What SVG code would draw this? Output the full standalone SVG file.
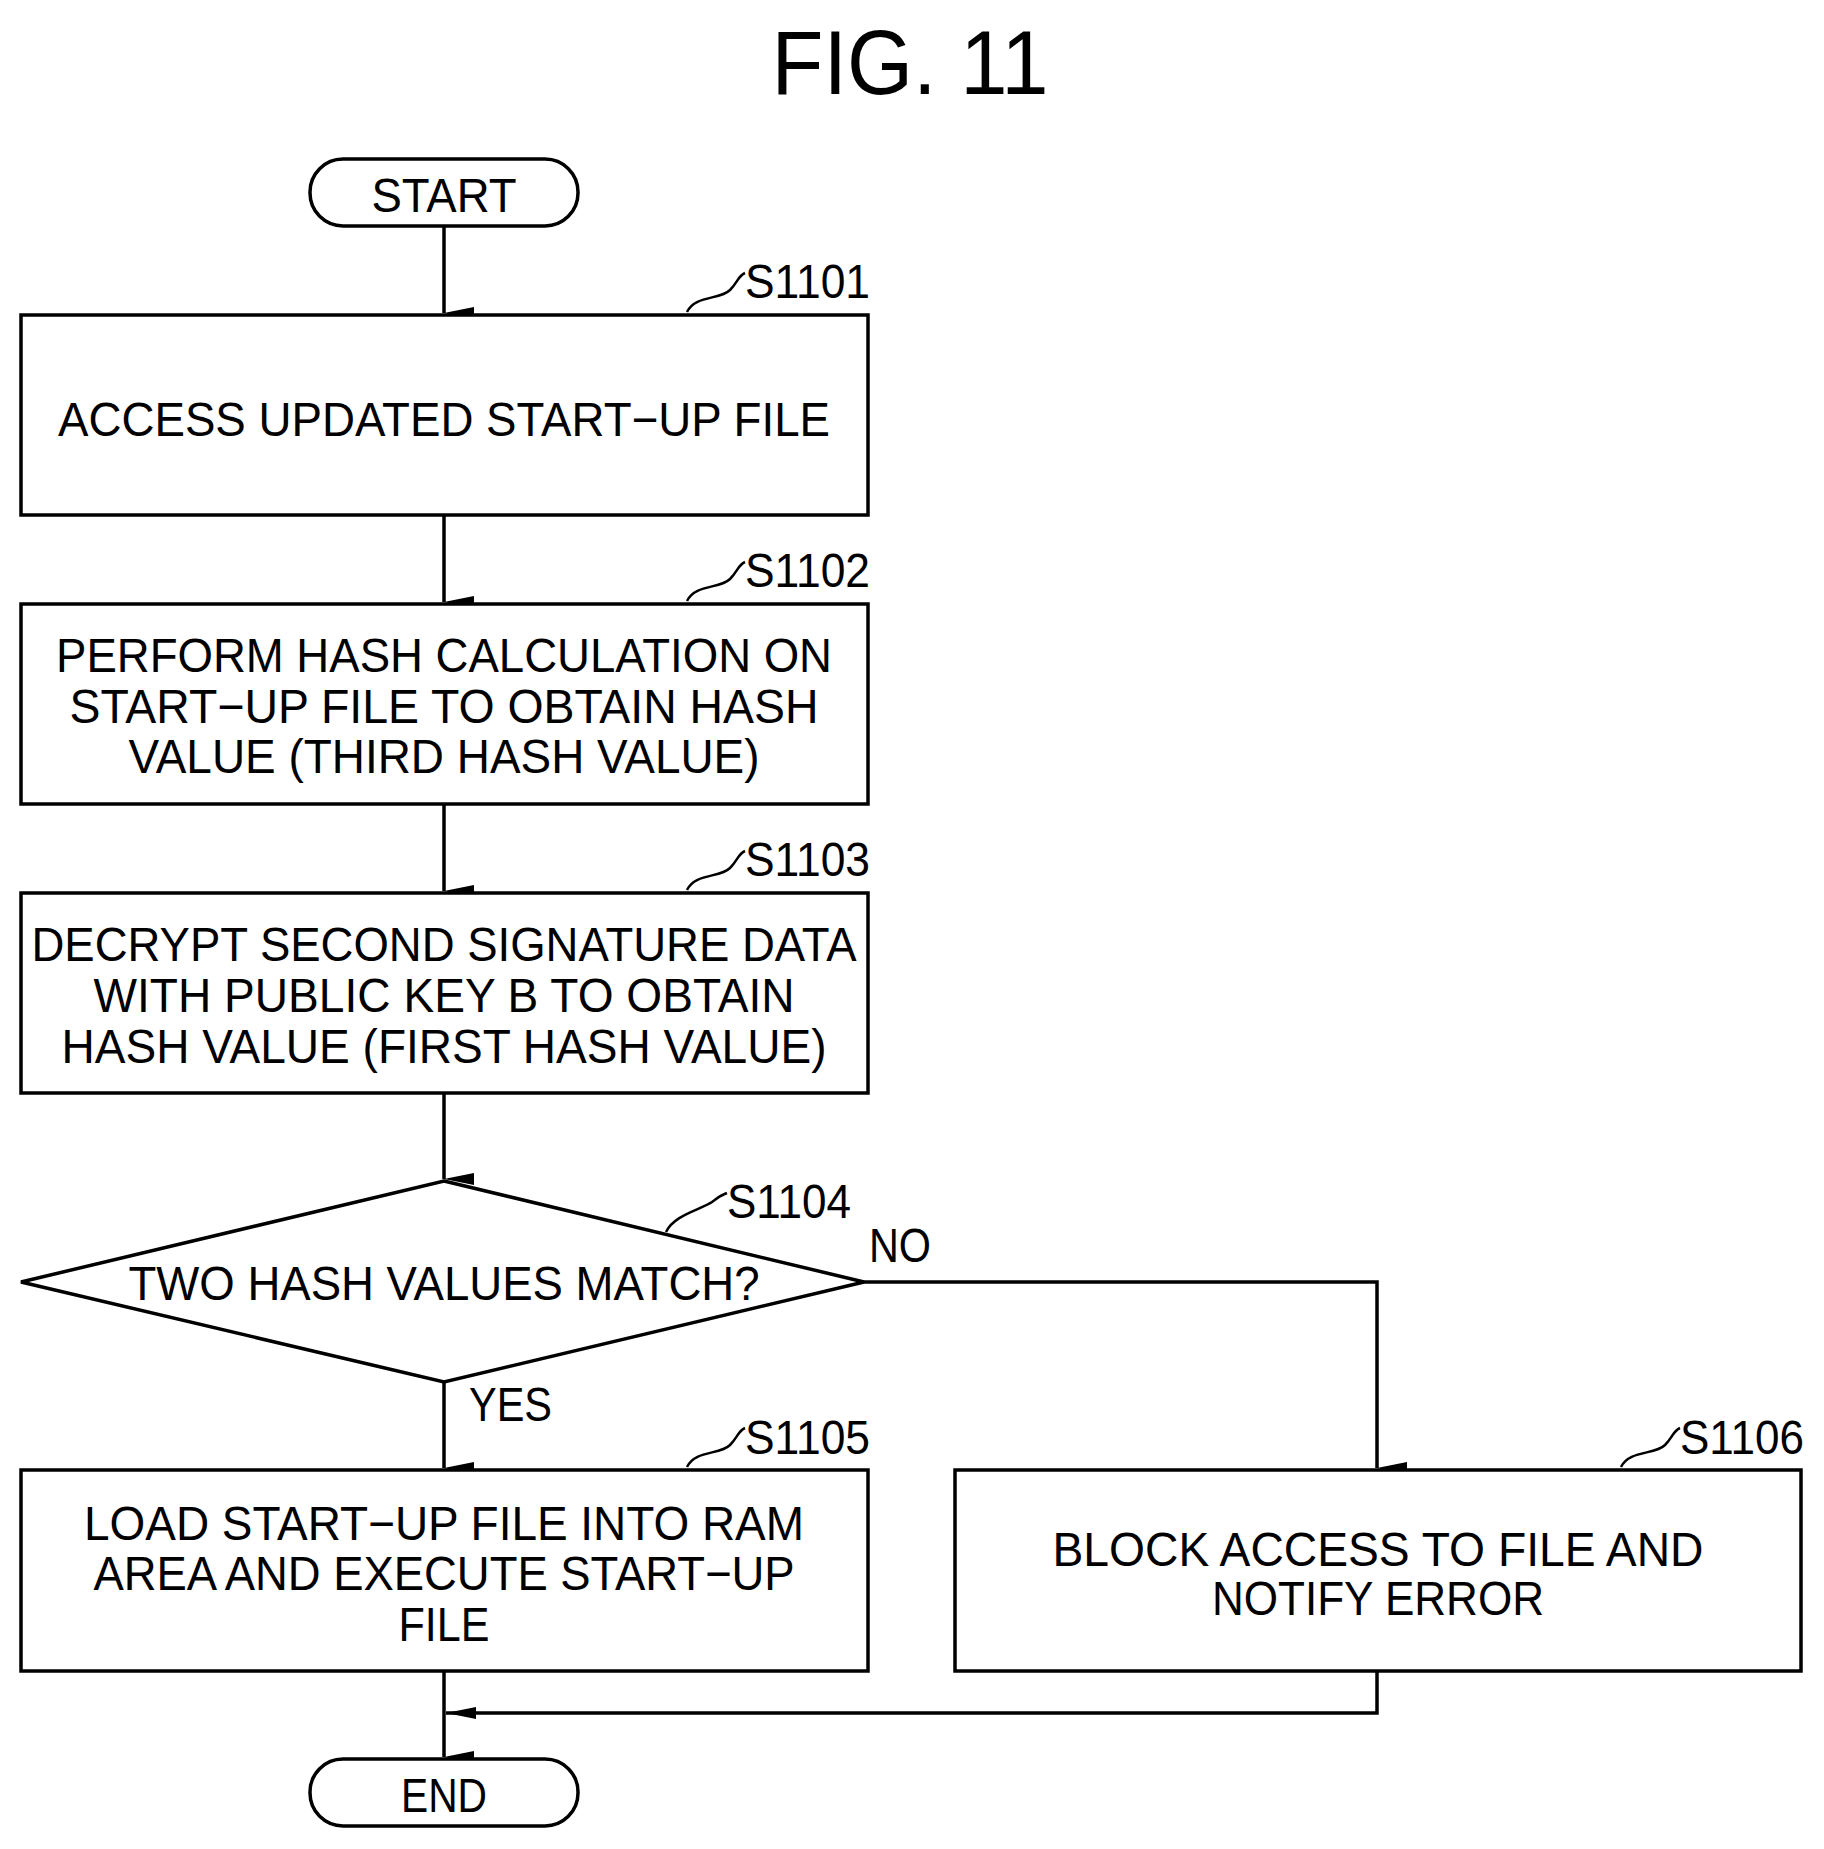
<svg xmlns="http://www.w3.org/2000/svg" width="1824" height="1849" viewBox="0 0 1824 1849">
<defs>
<style>
text{font-family:"Liberation Sans",Arial,sans-serif;font-size:48px;fill:#000}
.t{text-anchor:middle}
.b{fill:#fff;stroke:#000;stroke-width:3.5}
.c{fill:none;stroke:#000;stroke-width:3.5}
.s{fill:none;stroke:#000;stroke-width:2.5}
</style>
<marker id="a" viewBox="0 0 12 30" refX="6" refY="30" markerWidth="12" markerHeight="30" markerUnits="userSpaceOnUse" orient="auto-start-reverse"><path d="M0,0 L12,0 L6,30 Z" fill="#000"/></marker>
<marker id="h" viewBox="0 0 30 12" refX="0" refY="6" markerWidth="30" markerHeight="12" markerUnits="userSpaceOnUse" orient="0"><path d="M0,6 L30,0 L30,12 Z" fill="#000"/></marker>
</defs>
<text x="910" y="94" class="t" style="font-size:90px" textLength="277" lengthAdjust="spacingAndGlyphs">FIG. 11</text>

<g id="connectors">
<line class="c" x1="444" y1="226" x2="444" y2="313" marker-end="url(#a)"/>
<line class="c" x1="444" y1="515" x2="444" y2="602" marker-end="url(#a)"/>
<line class="c" x1="444" y1="804" x2="444" y2="891" marker-end="url(#a)"/>
<line class="c" x1="444" y1="1093" x2="444" y2="1179" marker-end="url(#a)"/>
<line class="c" x1="444" y1="1382" x2="444" y2="1468" marker-end="url(#a)"/>
<polyline class="c" points="864,1282 1377,1282 1377,1468" marker-end="url(#a)"/>
<line class="c" x1="444" y1="1671" x2="444" y2="1757" marker-end="url(#a)"/>
<polyline class="c" points="1377,1671 1377,1713 446,1713"/>
<path d="M446,1713 L476,1707 L476,1719 Z" fill="#000"/>
<text x="869" y="1262" textLength="62" lengthAdjust="spacingAndGlyphs">NO</text>
<text x="469" y="1421" textLength="83" lengthAdjust="spacingAndGlyphs">YES</text>
</g>

<g id="start">
<rect class="b" x="310" y="159" width="268" height="67" rx="33"/>
<text x="444" y="212" class="t" textLength="145" lengthAdjust="spacingAndGlyphs">START</text>
</g>

<g id="s1101">
<rect class="b" x="21" y="315" width="847" height="200"/>
<text x="444" y="436" class="t" textLength="772" lengthAdjust="spacingAndGlyphs">ACCESS UPDATED START−UP FILE</text>
<path class="s" d="M687,312 C695,295 720,300 730,290 C738,282 738,276 745,273"/>
<text x="745" y="298" textLength="125" lengthAdjust="spacingAndGlyphs">S1101</text>
</g>

<g id="s1102">
<rect class="b" x="21" y="604" width="847" height="200"/>
<text x="444" y="672" class="t" textLength="776" lengthAdjust="spacingAndGlyphs">PERFORM HASH CALCULATION ON</text>
<text x="444" y="723" class="t" textLength="749" lengthAdjust="spacingAndGlyphs">START−UP FILE TO OBTAIN HASH</text>
<text x="444" y="773" class="t" textLength="631" lengthAdjust="spacingAndGlyphs">VALUE (THIRD HASH VALUE)</text>
<path class="s" d="M687,601 C695,584 720,589 730,579 C738,571 738,565 745,562"/>
<text x="745" y="587" textLength="125" lengthAdjust="spacingAndGlyphs">S1102</text>
</g>

<g id="s1103">
<rect class="b" x="21" y="893" width="847" height="200"/>
<text x="444" y="961" class="t" textLength="825" lengthAdjust="spacingAndGlyphs">DECRYPT SECOND SIGNATURE DATA</text>
<text x="444" y="1012" class="t" textLength="701" lengthAdjust="spacingAndGlyphs">WITH PUBLIC KEY B TO OBTAIN</text>
<text x="444" y="1063" class="t" textLength="765" lengthAdjust="spacingAndGlyphs">HASH VALUE (FIRST HASH VALUE)</text>
<path class="s" d="M687,890 C695,873 720,878 730,868 C738,860 738,854 745,851"/>
<text x="745" y="876" textLength="125" lengthAdjust="spacingAndGlyphs">S1103</text>
</g>

<g id="s1104">
<polygon class="b" points="444,1181 864,1282 444,1382 21,1282"/>
<text x="444" y="1300" class="t" textLength="631" lengthAdjust="spacingAndGlyphs">TWO HASH VALUES MATCH?</text>
<path class="s" d="M666,1232 C674,1215 700,1210 712,1202 C720,1196 720,1196 727,1193"/>
<text x="727" y="1218" textLength="124" lengthAdjust="spacingAndGlyphs">S1104</text>
</g>

<g id="s1105">
<rect class="b" x="21" y="1470" width="847" height="201"/>
<text x="444" y="1540" class="t" textLength="720" lengthAdjust="spacingAndGlyphs">LOAD START−UP FILE INTO RAM</text>
<text x="444" y="1590" class="t" textLength="701" lengthAdjust="spacingAndGlyphs">AREA AND EXECUTE START−UP</text>
<text x="444" y="1641" class="t" textLength="91" lengthAdjust="spacingAndGlyphs">FILE</text>
<path class="s" d="M687,1467 C695,1450 720,1455 730,1445 C738,1437 738,1431 745,1428"/>
<text x="745" y="1454" textLength="125" lengthAdjust="spacingAndGlyphs">S1105</text>
</g>

<g id="s1106">
<rect class="b" x="955" y="1470" width="846" height="201"/>
<text x="1378" y="1566" class="t" textLength="651" lengthAdjust="spacingAndGlyphs">BLOCK ACCESS TO FILE AND</text>
<text x="1378" y="1615" class="t" textLength="332" lengthAdjust="spacingAndGlyphs">NOTIFY ERROR</text>
<path class="s" d="M1621,1467 C1629,1450 1655,1455 1665,1445 C1673,1437 1673,1431 1680,1428"/>
<text x="1680" y="1454" textLength="124" lengthAdjust="spacingAndGlyphs">S1106</text>
</g>

<g id="end">
<rect class="b" x="310" y="1759" width="268" height="67" rx="33"/>
<text x="444" y="1812" class="t" textLength="86" lengthAdjust="spacingAndGlyphs">END</text>
</g>
</svg>
